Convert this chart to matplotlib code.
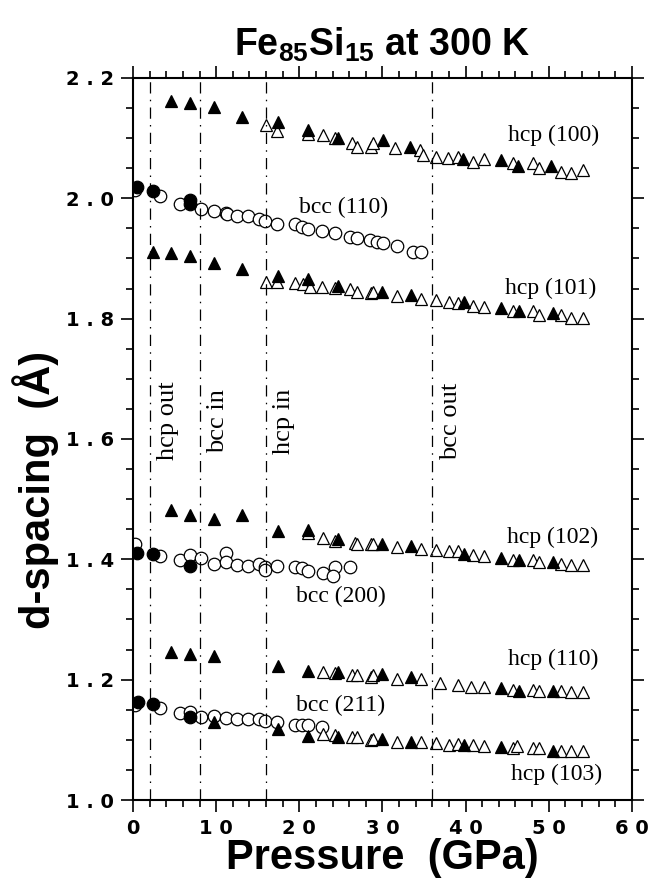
import numpy as np
import matplotlib
matplotlib.use("Agg")
import matplotlib.pyplot as plt
from matplotlib.ticker import MultipleLocator

plt.rcParams['mathtext.default'] = 'regular'

# transition pressures (GPa)
transitions = [2.0, 8.0, 16.0, 36.0]
transition_labels = ['hcp out', 'bcc in', 'hcp in', 'bcc out']

# bcc reflections -- filled symbols
bcc_fill_p = {'110': [0.5, 2.4, 6.8, 6.8],
              '200': [0.5, 2.4, 6.8],
              '211': [0.6, 2.4, 6.8]}
bcc_fill_d = {'110': [2.018, 2.012, 1.997, 1.990],
              '200': [1.410, 1.409, 1.389],
              '211': [1.163, 1.160, 1.138]}

# bcc reflections -- open symbols
bcc110_p = [0.2, 3.2, 5.6, 8.2, 9.7, 11.2, 11.3, 12.5, 13.8, 15.1, 15.9, 17.3,
            19.5, 20.3, 21.1, 22.7, 24.3, 26.1, 26.9, 28.5, 29.3, 30.1, 31.7,
            33.7, 34.7]
bcc110_d = [2.014, 2.004, 1.991, 1.982, 1.979, 1.976, 1.973, 1.971, 1.971,
            1.965, 1.962, 1.958, 1.957, 1.953, 1.949, 1.945, 1.942, 1.936,
            1.934, 1.931, 1.928, 1.925, 1.920, 1.911, 1.911]
bcc200_p = [0.2, 3.2, 5.6, 6.9, 8.2, 9.7, 11.2, 11.2, 12.5, 13.8, 15.1, 15.9,
            15.9, 17.3, 19.5, 20.3, 21.1, 22.8, 24.3, 24.1, 26.1]
bcc200_d = [1.426, 1.406, 1.399, 1.407, 1.402, 1.393, 1.410, 1.395, 1.391,
            1.389, 1.392, 1.387, 1.383, 1.389, 1.387, 1.385, 1.381, 1.378,
            1.387, 1.372, 1.387]
bcc211_p = [0.2, 3.2, 5.6, 6.9, 8.2, 9.7, 11.2, 12.5, 13.8, 15.1, 15.9, 17.3,
            19.5, 20.3, 21.1, 22.7]
bcc211_d = [1.158, 1.153, 1.145, 1.147, 1.138, 1.140, 1.136, 1.135, 1.134,
            1.134, 1.132, 1.130, 1.125, 1.124, 1.124, 1.122]

# hcp reflections -- filled symbols
hcp100_fp = [4.6, 6.8, 9.7, 13.1, 17.5, 21.1, 24.7, 30.1, 33.3, 39.7, 44.3,
             46.3, 50.3]
hcp100_fd = [2.161, 2.158, 2.151, 2.135, 2.127, 2.114, 2.100, 2.097, 2.085,
             2.065, 2.064, 2.053, 2.053]
hcp101_fp = [2.4, 4.6, 6.8, 9.7, 13.1, 17.5, 21.1, 24.7, 30.0, 33.4, 39.8,
             44.3, 46.4, 50.5]
hcp101_fd = [1.910, 1.909, 1.904, 1.892, 1.882, 1.871, 1.865, 1.854, 1.845,
             1.839, 1.827, 1.817, 1.812, 1.809]
hcp102_fp = [4.6, 6.8, 9.7, 13.1, 17.5, 21.1, 24.7, 30.0, 33.4, 39.8, 44.3,
             46.4, 50.5]
hcp102_fd = [1.482, 1.474, 1.467, 1.473, 1.447, 1.448, 1.433, 1.426, 1.422,
             1.409, 1.403, 1.399, 1.396]
hcp110_fp = [4.6, 6.8, 9.7, 17.5, 21.1, 24.7, 30.0, 33.4, 44.3, 46.4, 50.5]
hcp110_fd = [1.246, 1.243, 1.240, 1.223, 1.215, 1.212, 1.209, 1.205, 1.186,
             1.182, 1.182]
hcp103_fp = [9.7, 17.5, 21.1, 24.7, 30.0, 33.4, 39.8, 44.3, 50.5]
hcp103_fd = [1.129, 1.118, 1.106, 1.105, 1.101, 1.097, 1.091, 1.088, 1.082]

# hcp reflections -- open symbols
hcp100_p = [16.0, 17.3, 21.1, 22.8, 24.3, 26.3, 27.0, 28.6, 28.9, 31.5, 34.5,
            34.9, 36.4, 37.9, 39.1, 40.9, 42.2, 45.7, 48.1, 48.9, 51.5, 52.7,
            54.1]
hcp100_d = [2.121, 2.112, 2.107, 2.105, 2.100, 2.091, 2.085, 2.085, 2.091,
            2.083, 2.080, 2.072, 2.069, 2.067, 2.069, 2.061, 2.065, 2.058,
            2.058, 2.050, 2.044, 2.042, 2.047]
hcp101_p = [16.0, 17.3, 19.5, 20.4, 21.3, 22.7, 24.3, 26.1, 27.0, 28.6, 28.9,
            31.7, 34.7, 36.5, 38.0, 39.1, 40.9, 42.2, 45.7, 48.1, 48.9, 51.5,
            52.7, 54.1]
hcp101_d = [1.861, 1.860, 1.859, 1.857, 1.852, 1.853, 1.851, 1.849, 1.845,
            1.843, 1.845, 1.837, 1.832, 1.831, 1.828, 1.826, 1.821, 1.820,
            1.812, 1.812, 1.806, 1.806, 1.801, 1.801]
hcp102_p = [21.1, 22.8, 24.3, 26.7, 27.0, 28.6, 28.9, 31.7, 34.7, 36.4, 38.0,
            39.1, 40.9, 42.2, 45.7, 48.1, 48.9, 51.5, 52.7, 54.1]
hcp102_d = [1.443, 1.435, 1.431, 1.427, 1.425, 1.426, 1.426, 1.420, 1.417,
            1.416, 1.414, 1.413, 1.407, 1.406, 1.399, 1.399, 1.396, 1.393,
            1.391, 1.391]
hcp110_p = [22.8, 24.3, 26.3, 27.0, 28.6, 28.9, 31.7, 34.7, 36.9, 39.1, 40.7,
            42.2, 45.7, 48.1, 48.9, 51.5, 52.7, 54.1]
hcp110_d = [1.212, 1.211, 1.208, 1.208, 1.205, 1.208, 1.201, 1.201, 1.194,
            1.191, 1.188, 1.188, 1.183, 1.183, 1.181, 1.181, 1.180, 1.179]
hcp103_p = [22.8, 24.3, 26.3, 27.0, 28.6, 28.9, 31.7, 34.7, 36.4, 38.0, 39.1,
            40.9, 42.2, 45.7, 46.2, 48.1, 48.9, 51.5, 52.7, 54.1]
hcp103_d = [1.110, 1.108, 1.105, 1.104, 1.100, 1.101, 1.097, 1.096, 1.094,
            1.092, 1.093, 1.091, 1.090, 1.087, 1.090, 1.086, 1.086, 1.082,
            1.081, 1.081]

# peak labels: text, pressure, d
peak_labels = [('hcp (100)', 50.6, 2.104), ('bcc (110)', 25.3, 1.984),
               ('hcp (101)', 50.3, 1.851), ('hcp (102)', 50.5, 1.437),
               ('bcc (200)', 25.0, 1.339), ('hcp (110)', 50.5, 1.233),
               ('bcc (211)', 25.0, 1.158), ('hcp (103)', 50.9, 1.043)]

x_ticks = [0, 10, 20, 30, 40, 50, 60]
y_ticks = [1.0, 1.2, 1.4, 1.6, 1.8, 2.0, 2.2]

fig = plt.figure(figsize=(6.65, 8.85), dpi=100)
ax = fig.add_axes([0.200, 0.096, 0.750, 0.816])

ms = 9
open_kw = dict(ls='none', mfc='white', mec='black', mew=0.9, ms=ms)
fill_kw = dict(ls='none', mfc='black', mec='black', mew=0.9, ms=ms)

for p, d in [(bcc110_p, bcc110_d), (bcc200_p, bcc200_d), (bcc211_p, bcc211_d)]:
    ax.plot(p, d, marker='o', **open_kw)
for p, d in [(hcp100_p, hcp100_d), (hcp101_p, hcp101_d), (hcp102_p, hcp102_d),
             (hcp110_p, hcp110_d), (hcp103_p, hcp103_d)]:
    ax.plot(p, d, marker='^', **open_kw)
for key in bcc_fill_p:
    ax.plot(bcc_fill_p[key], bcc_fill_d[key], marker='o', **fill_kw)
for p, d in [(hcp100_fp, hcp100_fd), (hcp101_fp, hcp101_fd),
             (hcp102_fp, hcp102_fd), (hcp110_fp, hcp110_fd),
             (hcp103_fp, hcp103_fd)]:
    ax.plot(p, d, marker='^', **fill_kw)

# phase boundaries
for xp, lab in zip(transitions, transition_labels):
    ax.axvline(xp, color='black', lw=0.9, dashes=(9, 5, 1.2, 5))
    ax.text(xp + 2.2, 1.630, lab, rotation=90, ha='center', va='center',
            family='Liberation Serif', fontsize=19)

for lab, xp, yp in peak_labels:
    ax.text(xp, yp, lab, ha='center', va='center',
            family='Liberation Serif', fontsize=17)

ax.set_xlim(0, 60)
ax.set_ylim(1.0, 2.2)
ax.set_xticks(x_ticks)
ax.set_xticklabels([' '.join(str(v)) for v in x_ticks])
ax.set_yticks(y_ticks)
ax.set_yticklabels([' '.join(f'{v:.1f}') for v in y_ticks])
ax.xaxis.set_minor_locator(MultipleLocator(2))
ax.yaxis.set_minor_locator(MultipleLocator(0.05))
ax.tick_params(which='both', direction='out', top=True, right=True,
               width=1.2, colors='black')
ax.tick_params(which='major', length=8.5, pad=5)
ax.tick_params(which='minor', length=5)
for lbl in ax.get_xticklabels() + ax.get_yticklabels():
    lbl.set_family('DejaVu Sans')
    lbl.set_weight('bold')
    lbl.set_fontsize(14)
for sp in ax.spines.values():
    sp.set_linewidth(1.5)

ax.set_xlabel('Pressure  (GPa)', family='Liberation Sans', weight='bold',
              fontsize=30, labelpad=0)
ax.set_ylabel('d-spacing  (Å)', family='Liberation Sans', weight='bold',
              fontsize=30)
ax.yaxis.set_label_coords(-0.148, 0.43)
ax.set_title(r'Fe$_{85}$Si$_{15}$ at 300 K', family='Liberation Sans',
             weight='bold', fontsize=27, pad=16)

fig.savefig('out.png', dpi=100)
